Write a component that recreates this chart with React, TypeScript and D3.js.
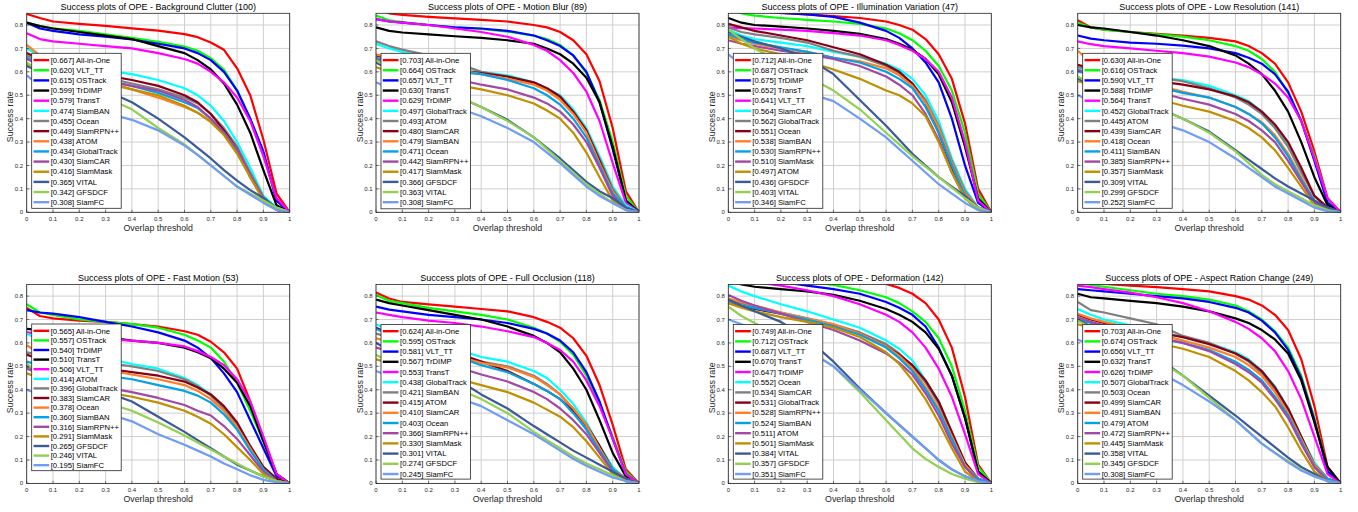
import React from "react";
import * as d3 from "d3";

// ---------- shared data ----------
const thresholds = [0, 0.05, 0.1, 0.2, 0.3, 0.4, 0.5, 0.6, 0.65, 0.7, 0.75, 0.8, 0.85, 0.9, 0.95, 1];
const xTickValues = [0, 0.1, 0.2, 0.3, 0.4, 0.5, 0.6, 0.7, 0.8, 0.9, 1];
const xTickLabels = ["0", "0.1", "0.2", "0.3", "0.4", "0.5", "0.6", "0.7", "0.8", "0.9", "1"];
const yTickValues = [0, 0.1, 0.2, 0.3, 0.4, 0.5, 0.6, 0.7, 0.8];
const yTickLabels = ["0", "0.1", "0.2", "0.3", "0.4", "0.5", "0.6", "0.7", "0.8"];
const rankColors = [
  "#ff0000", "#00ff00", "#0000ff", "#000000", "#ff00ff", "#00ffff", "#808080",
  "#880015", "#ff7f27", "#00a2e8", "#a349a4", "#bf9000", "#3b5a9a", "#92d050", "#6f9cf5",
];

// ---------- Background Clutter ----------
const bcTitle = "Success plots of OPE - Background Clutter (100)";
const bcNames = ["All-in-One", "VLT_TT", "OSTrack", "TrDIMP", "TransT", "SiamBAN", "Ocean", "SiamRPN++", "ATOM", "GlobalTrack", "SiamCAR", "SiamMask", "VITAL", "GFSDCF", "SiamFC"];
const bcScores = ["0.667", "0.620", "0.615", "0.599", "0.579", "0.474", "0.455", "0.449", "0.438", "0.434", "0.430", "0.416", "0.365", "0.342", "0.308"];
const bcCurves = [
  [0.847, 0.83, 0.815, 0.805, 0.796, 0.786, 0.776, 0.761, 0.748, 0.725, 0.694, 0.615, 0.5, 0.31, 0.08, 0],
  [0.81, 0.795, 0.786, 0.775, 0.76, 0.745, 0.728, 0.708, 0.69, 0.658, 0.61, 0.52, 0.4, 0.25, 0.05, 0],
  [0.81, 0.785, 0.775, 0.76, 0.75, 0.738, 0.72, 0.7, 0.68, 0.65, 0.6, 0.52, 0.4, 0.26, 0.05, 0],
  [0.81, 0.795, 0.785, 0.77, 0.755, 0.74, 0.71, 0.68, 0.65, 0.61, 0.55, 0.46, 0.34, 0.18, 0.03, 0],
  [0.765, 0.74, 0.73, 0.72, 0.71, 0.7, 0.68, 0.655, 0.635, 0.6, 0.555, 0.49, 0.39, 0.24, 0.06, 0],
  [0.7, 0.67, 0.65, 0.625, 0.605, 0.59, 0.565, 0.53, 0.5, 0.455, 0.39, 0.3, 0.19, 0.07, 0.02, 0],
  [0.67, 0.645, 0.625, 0.6, 0.575, 0.55, 0.525, 0.49, 0.465, 0.42, 0.36, 0.28, 0.17, 0.065, 0.015, 0],
  [0.68, 0.655, 0.635, 0.61, 0.585, 0.565, 0.54, 0.5, 0.47, 0.42, 0.35, 0.27, 0.15, 0.06, 0.01, 0],
  [0.715, 0.67, 0.64, 0.6, 0.56, 0.525, 0.49, 0.45, 0.425, 0.39, 0.335, 0.26, 0.16, 0.06, 0.01, 0],
  [0.66, 0.635, 0.615, 0.59, 0.565, 0.54, 0.51, 0.47, 0.445, 0.4, 0.34, 0.265, 0.16, 0.06, 0.01, 0],
  [0.655, 0.63, 0.61, 0.585, 0.56, 0.54, 0.52, 0.48, 0.45, 0.4, 0.34, 0.27, 0.16, 0.06, 0.01, 0],
  [0.635, 0.61, 0.595, 0.57, 0.55, 0.525, 0.5, 0.455, 0.425, 0.385, 0.33, 0.25, 0.15, 0.05, 0.01, 0],
  [0.625, 0.6, 0.58, 0.55, 0.52, 0.47, 0.4, 0.32, 0.275, 0.23, 0.18, 0.135, 0.095, 0.06, 0.02, 0],
  [0.64, 0.6, 0.57, 0.53, 0.49, 0.44, 0.36, 0.29, 0.245, 0.2, 0.155, 0.11, 0.08, 0.05, 0.02, 0],
  [0.585, 0.54, 0.5, 0.46, 0.425, 0.395, 0.35, 0.285, 0.245, 0.2, 0.155, 0.11, 0.075, 0.04, 0.01, 0],
];

// ---------- Motion Blur ----------
const mbTitle = "Success plots of OPE - Motion Blur (89)";
const mbNames = ["All-in-One", "OSTrack", "VLT_TT", "TransT", "TrDiMP", "GlobalTrack", "ATOM", "SiamCAR", "SiamBAN", "Ocean", "SiamRPN++", "SiamMask", "GFSDCF", "VITAL", "SiamFC"];
const mbScores = ["0.703", "0.664", "0.657", "0.630", "0.629", "0.497", "0.493", "0.480", "0.479", "0.471", "0.442", "0.417", "0.366", "0.363", "0.308"];
const mbCurves = [
  [0.87, 0.85, 0.843, 0.835, 0.828, 0.822, 0.815, 0.8, 0.79, 0.77, 0.735, 0.675, 0.56, 0.36, 0.09, 0],
  [0.84, 0.82, 0.812, 0.8, 0.79, 0.783, 0.772, 0.755, 0.74, 0.715, 0.67, 0.595, 0.48, 0.3, 0.07, 0],
  [0.825, 0.815, 0.81, 0.8, 0.79, 0.785, 0.775, 0.755, 0.735, 0.71, 0.67, 0.6, 0.47, 0.27, 0.05, 0],
  [0.79, 0.775, 0.768, 0.76, 0.752, 0.745, 0.735, 0.72, 0.7, 0.675, 0.635, 0.575, 0.47, 0.28, 0.05, 0],
  [0.825, 0.815, 0.81, 0.8, 0.785, 0.77, 0.75, 0.715, 0.69, 0.65, 0.595, 0.515, 0.39, 0.21, 0.04, 0],
  [0.72, 0.7, 0.685, 0.66, 0.635, 0.6, 0.585, 0.555, 0.53, 0.5, 0.44, 0.36, 0.24, 0.11, 0.03, 0],
  [0.73, 0.71, 0.695, 0.67, 0.64, 0.6, 0.58, 0.55, 0.525, 0.49, 0.43, 0.35, 0.23, 0.1, 0.02, 0],
  [0.67, 0.655, 0.645, 0.63, 0.61, 0.595, 0.58, 0.555, 0.53, 0.495, 0.43, 0.35, 0.22, 0.09, 0.02, 0],
  [0.675, 0.66, 0.648, 0.63, 0.61, 0.59, 0.57, 0.545, 0.52, 0.48, 0.42, 0.34, 0.21, 0.09, 0.02, 0],
  [0.66, 0.645, 0.635, 0.62, 0.6, 0.59, 0.565, 0.53, 0.5, 0.46, 0.4, 0.32, 0.2, 0.08, 0.02, 0],
  [0.655, 0.635, 0.62, 0.595, 0.57, 0.545, 0.525, 0.49, 0.465, 0.43, 0.375, 0.3, 0.19, 0.07, 0.01, 0],
  [0.62, 0.6, 0.59, 0.57, 0.545, 0.525, 0.5, 0.465, 0.435, 0.4, 0.34, 0.255, 0.15, 0.05, 0.01, 0],
  [0.64, 0.61, 0.585, 0.545, 0.5, 0.45, 0.395, 0.32, 0.275, 0.23, 0.18, 0.13, 0.09, 0.06, 0.02, 0],
  [0.65, 0.615, 0.59, 0.55, 0.5, 0.45, 0.39, 0.32, 0.27, 0.22, 0.17, 0.12, 0.08, 0.04, 0.01, 0],
  [0.555, 0.53, 0.51, 0.48, 0.45, 0.41, 0.36, 0.3, 0.255, 0.21, 0.16, 0.11, 0.07, 0.04, 0.01, 0],
];

// ---------- Illumination Variation ----------
const ivTitle = "Success plots of OPE - Illumination Variation (47)";
const ivNames = ["All-in-One", "OSTrack", "TrDiMP", "TransT", "VLT_TT", "SiamCAR", "GlobalTrack", "Ocean", "SiamBAN", "SiamRPN++", "SiamMask", "ATOM", "GFSDCF", "VITAL", "SiamFC"];
const ivScores = ["0.712", "0.687", "0.675", "0.652", "0.641", "0.564", "0.562", "0.551", "0.538", "0.530", "0.510", "0.497", "0.436", "0.403", "0.346"];
const ivCurves = [
  [0.88, 0.865, 0.857, 0.852, 0.845, 0.838, 0.83, 0.815, 0.8, 0.78, 0.74, 0.675, 0.57, 0.38, 0.1, 0],
  [0.87, 0.85, 0.84, 0.83, 0.822, 0.815, 0.805, 0.785, 0.765, 0.735, 0.69, 0.625, 0.52, 0.34, 0.08, 0],
  [0.88, 0.87, 0.865, 0.852, 0.845, 0.835, 0.81, 0.775, 0.745, 0.7, 0.64, 0.555, 0.4, 0.2, 0.04, 0],
  [0.83, 0.81, 0.8, 0.793, 0.785, 0.775, 0.762, 0.74, 0.72, 0.695, 0.655, 0.59, 0.47, 0.28, 0.06, 0],
  [0.79, 0.787, 0.785, 0.78, 0.775, 0.765, 0.755, 0.735, 0.715, 0.69, 0.655, 0.6, 0.49, 0.3, 0.05, 0],
  [0.78, 0.755, 0.74, 0.725, 0.71, 0.685, 0.665, 0.635, 0.61, 0.57, 0.5, 0.39, 0.23, 0.1, 0.02, 0],
  [0.79, 0.77, 0.76, 0.745, 0.725, 0.69, 0.665, 0.625, 0.595, 0.55, 0.48, 0.37, 0.22, 0.09, 0.02, 0],
  [0.805, 0.79, 0.775, 0.755, 0.735, 0.705, 0.675, 0.63, 0.6, 0.55, 0.47, 0.34, 0.19, 0.07, 0.02, 0],
  [0.75, 0.735, 0.72, 0.7, 0.685, 0.66, 0.645, 0.615, 0.585, 0.54, 0.47, 0.36, 0.21, 0.08, 0.02, 0],
  [0.76, 0.74, 0.725, 0.705, 0.685, 0.66, 0.64, 0.6, 0.57, 0.53, 0.45, 0.34, 0.2, 0.07, 0.02, 0],
  [0.735, 0.72, 0.71, 0.69, 0.675, 0.655, 0.625, 0.58, 0.545, 0.5, 0.42, 0.31, 0.17, 0.06, 0.01, 0],
  [0.75, 0.72, 0.7, 0.675, 0.645, 0.61, 0.57, 0.52, 0.5, 0.465, 0.41, 0.3, 0.17, 0.06, 0.01, 0],
  [0.77, 0.75, 0.73, 0.7, 0.66, 0.59, 0.48, 0.37, 0.31, 0.25, 0.2, 0.15, 0.11, 0.07, 0.02, 0],
  [0.78, 0.74, 0.7, 0.64, 0.58, 0.52, 0.44, 0.34, 0.29, 0.24, 0.195, 0.15, 0.105, 0.06, 0.02, 0],
  [0.675, 0.63, 0.6, 0.555, 0.51, 0.475, 0.4, 0.32, 0.27, 0.22, 0.17, 0.12, 0.08, 0.04, 0.01, 0],
];

// ---------- Low Resolution ----------
const lrTitle = "Success plots of OPE - Low Resolution (141)";
const lrNames = ["All-in-One", "OSTrack", "VLT_TT", "TrDiMP", "TransT", "GlobalTrack", "ATOM", "SiamCAR", "Ocean", "SiamBAN", "SiamRPN++", "SiamMask", "VITAL", "GFSDCF", "SiamFC"];
const lrScores = ["0.630", "0.616", "0.590", "0.588", "0.564", "0.452", "0.445", "0.439", "0.418", "0.411", "0.385", "0.357", "0.309", "0.299", "0.252"];
const lrCurves = [
  [0.82, 0.79, 0.78, 0.77, 0.762, 0.755, 0.745, 0.73, 0.71, 0.68, 0.635, 0.555, 0.43, 0.26, 0.06, 0],
  [0.81, 0.79, 0.78, 0.77, 0.76, 0.75, 0.735, 0.71, 0.69, 0.655, 0.6, 0.51, 0.39, 0.24, 0.05, 0],
  [0.755, 0.742, 0.735, 0.725, 0.72, 0.712, 0.7, 0.68, 0.66, 0.635, 0.59, 0.515, 0.39, 0.22, 0.04, 0],
  [0.8, 0.79, 0.785, 0.77, 0.755, 0.735, 0.71, 0.67, 0.635, 0.59, 0.52, 0.43, 0.3, 0.15, 0.03, 0],
  [0.73, 0.718, 0.71, 0.7, 0.69, 0.68, 0.665, 0.64, 0.62, 0.59, 0.55, 0.49, 0.39, 0.23, 0.06, 0],
  [0.6, 0.59, 0.585, 0.58, 0.575, 0.565, 0.54, 0.5, 0.475, 0.43, 0.37, 0.29, 0.18, 0.07, 0.02, 0],
  [0.62, 0.61, 0.6, 0.59, 0.575, 0.56, 0.53, 0.49, 0.46, 0.42, 0.36, 0.28, 0.17, 0.07, 0.02, 0],
  [0.63, 0.615, 0.6, 0.58, 0.56, 0.545, 0.525, 0.495, 0.47, 0.43, 0.375, 0.3, 0.19, 0.07, 0.02, 0],
  [0.69, 0.64, 0.61, 0.575, 0.545, 0.515, 0.49, 0.45, 0.42, 0.385, 0.33, 0.25, 0.15, 0.05, 0.01, 0],
  [0.61, 0.595, 0.58, 0.56, 0.535, 0.51, 0.49, 0.45, 0.42, 0.38, 0.32, 0.24, 0.14, 0.05, 0.01, 0],
  [0.605, 0.585, 0.57, 0.545, 0.515, 0.485, 0.46, 0.42, 0.39, 0.35, 0.3, 0.22, 0.13, 0.04, 0.01, 0],
  [0.56, 0.545, 0.535, 0.51, 0.485, 0.455, 0.43, 0.39, 0.36, 0.32, 0.265, 0.19, 0.11, 0.03, 0.01, 0],
  [0.57, 0.545, 0.525, 0.49, 0.45, 0.4, 0.345, 0.265, 0.225, 0.185, 0.145, 0.11, 0.08, 0.05, 0.02, 0],
  [0.58, 0.55, 0.53, 0.49, 0.45, 0.4, 0.34, 0.26, 0.21, 0.16, 0.12, 0.09, 0.06, 0.03, 0.01, 0],
  [0.5, 0.475, 0.455, 0.42, 0.385, 0.35, 0.3, 0.23, 0.19, 0.15, 0.11, 0.08, 0.05, 0.02, 0.005, 0],
];

// ---------- Fast Motion ----------
const fmTitle = "Success plots of OPE - Fast Motion (53)";
const fmNames = ["All-in-One", "OSTrack", "TrDIMP", "TransT", "VLT_TT", "ATOM", "GlobalTrack", "SiamCAR", "Ocean", "SiamBAN", "SiamRPN++", "SiamMask", "GFSDCF", "VITAL", "SiamFC"];
const fmScores = ["0.565", "0.557", "0.540", "0.510", "0.506", "0.414", "0.396", "0.383", "0.378", "0.360", "0.316", "0.291", "0.265", "0.246", "0.195"];
const fmCurves = [
  [0.75, 0.715, 0.705, 0.695, 0.69, 0.68, 0.67, 0.65, 0.635, 0.605, 0.56, 0.49, 0.35, 0.19, 0.04, 0],
  [0.765, 0.73, 0.72, 0.7, 0.69, 0.68, 0.665, 0.635, 0.61, 0.58, 0.52, 0.43, 0.31, 0.18, 0.04, 0],
  [0.74, 0.73, 0.725, 0.71, 0.69, 0.67, 0.645, 0.61, 0.58, 0.535, 0.47, 0.39, 0.27, 0.15, 0.03, 0],
  [0.66, 0.655, 0.65, 0.64, 0.625, 0.61, 0.6, 0.58, 0.56, 0.535, 0.49, 0.43, 0.33, 0.18, 0.04, 0],
  [0.645, 0.64, 0.635, 0.625, 0.615, 0.61, 0.6, 0.585, 0.565, 0.54, 0.505, 0.445, 0.35, 0.2, 0.04, 0],
  [0.64, 0.61, 0.59, 0.56, 0.535, 0.51, 0.49, 0.45, 0.42, 0.38, 0.32, 0.24, 0.15, 0.07, 0.02, 0],
  [0.56, 0.55, 0.54, 0.53, 0.515, 0.5, 0.48, 0.445, 0.415, 0.375, 0.32, 0.245, 0.15, 0.07, 0.02, 0],
  [0.55, 0.53, 0.52, 0.505, 0.49, 0.475, 0.46, 0.435, 0.41, 0.38, 0.33, 0.26, 0.16, 0.07, 0.02, 0],
  [0.59, 0.555, 0.535, 0.51, 0.485, 0.465, 0.445, 0.42, 0.395, 0.36, 0.31, 0.24, 0.15, 0.06, 0.01, 0],
  [0.52, 0.505, 0.495, 0.48, 0.46, 0.445, 0.42, 0.395, 0.375, 0.345, 0.295, 0.23, 0.14, 0.06, 0.01, 0],
  [0.49, 0.47, 0.455, 0.435, 0.41, 0.39, 0.365, 0.335, 0.31, 0.29, 0.245, 0.19, 0.12, 0.05, 0.01, 0],
  [0.47, 0.45, 0.435, 0.41, 0.39, 0.37, 0.345, 0.31, 0.285, 0.255, 0.21, 0.155, 0.1, 0.04, 0.01, 0],
  [0.5, 0.48, 0.46, 0.43, 0.39, 0.35, 0.285, 0.22, 0.185, 0.15, 0.115, 0.08, 0.055, 0.03, 0.01, 0],
  [0.51, 0.47, 0.44, 0.39, 0.345, 0.31, 0.26, 0.205, 0.175, 0.145, 0.115, 0.085, 0.055, 0.03, 0.01, 0],
  [0.4, 0.38, 0.36, 0.33, 0.3, 0.265, 0.21, 0.165, 0.14, 0.115, 0.085, 0.06, 0.035, 0.015, 0.005, 0],
];

// ---------- Full Occlusion ----------
const foTitle = "Success plots of OPE - Full Occlusion (118)";
const foNames = ["All-in-One", "OSTrack", "VLT_TT", "TrDIMP", "TransT", "GlobalTrack", "SiamBAN", "ATOM", "SiamCAR", "Ocean", "SiamRPN++", "SiamMask", "VITAL", "GFSDCF", "SiamFC"];
const foScores = ["0.624", "0.595", "0.581", "0.567", "0.553", "0.438", "0.421", "0.415", "0.410", "0.403", "0.366", "0.330", "0.301", "0.274", "0.245"];
const foCurves = [
  [0.815, 0.79, 0.775, 0.765, 0.755, 0.745, 0.735, 0.71, 0.69, 0.665, 0.62, 0.545, 0.42, 0.25, 0.06, 0],
  [0.805, 0.78, 0.77, 0.75, 0.735, 0.72, 0.7, 0.665, 0.64, 0.605, 0.55, 0.46, 0.34, 0.2, 0.05, 0],
  [0.755, 0.742, 0.735, 0.72, 0.71, 0.7, 0.685, 0.66, 0.64, 0.61, 0.56, 0.475, 0.35, 0.19, 0.04, 0],
  [0.785, 0.77, 0.76, 0.74, 0.72, 0.7, 0.67, 0.63, 0.6, 0.56, 0.49, 0.4, 0.27, 0.13, 0.03, 0],
  [0.73, 0.72, 0.71, 0.695, 0.685, 0.67, 0.65, 0.625, 0.6, 0.57, 0.52, 0.44, 0.33, 0.19, 0.04, 0],
  [0.68, 0.655, 0.635, 0.605, 0.575, 0.54, 0.52, 0.48, 0.45, 0.4, 0.34, 0.26, 0.16, 0.07, 0.02, 0],
  [0.64, 0.625, 0.61, 0.585, 0.555, 0.52, 0.5, 0.46, 0.425, 0.38, 0.32, 0.24, 0.15, 0.06, 0.02, 0],
  [0.665, 0.64, 0.62, 0.59, 0.56, 0.52, 0.48, 0.425, 0.395, 0.36, 0.31, 0.25, 0.16, 0.06, 0.02, 0],
  [0.62, 0.605, 0.595, 0.575, 0.545, 0.515, 0.495, 0.455, 0.42, 0.38, 0.32, 0.25, 0.15, 0.06, 0.02, 0],
  [0.66, 0.635, 0.615, 0.58, 0.545, 0.505, 0.475, 0.425, 0.395, 0.36, 0.3, 0.23, 0.14, 0.06, 0.01, 0],
  [0.58, 0.565, 0.55, 0.525, 0.5, 0.465, 0.435, 0.39, 0.36, 0.32, 0.27, 0.21, 0.13, 0.05, 0.01, 0],
  [0.53, 0.515, 0.5, 0.475, 0.45, 0.42, 0.39, 0.345, 0.315, 0.285, 0.24, 0.18, 0.11, 0.04, 0.01, 0],
  [0.6, 0.57, 0.545, 0.5, 0.45, 0.38, 0.32, 0.245, 0.21, 0.175, 0.14, 0.11, 0.08, 0.05, 0.02, 0],
  [0.55, 0.52, 0.495, 0.45, 0.41, 0.36, 0.3, 0.22, 0.185, 0.15, 0.115, 0.085, 0.06, 0.035, 0.01, 0],
  [0.48, 0.46, 0.44, 0.41, 0.37, 0.33, 0.27, 0.21, 0.175, 0.14, 0.105, 0.075, 0.05, 0.025, 0.01, 0],
];

// ---------- Deformation ----------
const dfTitle = "Success plots of OPE - Deformation (142)";
const dfNames = ["All-in-One", "OSTrack", "VLT_TT", "TransT", "TrDiMP", "Ocean", "SiamCAR", "GlobalTrack", "SiamRPN++", "SiamBAN", "ATOM", "SiamMask", "VITAL", "GFSDCF", "SiamFC"];
const dfScores = ["0.749", "0.712", "0.687", "0.670", "0.647", "0.552", "0.534", "0.531", "0.528", "0.524", "0.511", "0.501", "0.384", "0.357", "0.351"];
const dfCurves = [
  [0.93, 0.915, 0.91, 0.9, 0.89, 0.88, 0.87, 0.852, 0.835, 0.81, 0.77, 0.7, 0.58, 0.37, 0.08, 0],
  [0.9, 0.89, 0.88, 0.87, 0.86, 0.848, 0.825, 0.795, 0.77, 0.735, 0.69, 0.62, 0.5, 0.31, 0.07, 0],
  [0.88, 0.875, 0.87, 0.86, 0.845, 0.83, 0.81, 0.775, 0.75, 0.72, 0.67, 0.58, 0.46, 0.28, 0.05, 0],
  [0.87, 0.85, 0.84, 0.83, 0.82, 0.805, 0.78, 0.745, 0.72, 0.69, 0.645, 0.575, 0.46, 0.28, 0.05, 0],
  [0.87, 0.865, 0.86, 0.845, 0.825, 0.8, 0.765, 0.72, 0.69, 0.645, 0.58, 0.49, 0.37, 0.21, 0.04, 0],
  [0.845, 0.82, 0.8, 0.765, 0.735, 0.7, 0.665, 0.61, 0.575, 0.525, 0.44, 0.35, 0.21, 0.09, 0.02, 0],
  [0.79, 0.77, 0.755, 0.73, 0.705, 0.68, 0.645, 0.595, 0.555, 0.5, 0.43, 0.34, 0.21, 0.08, 0.02, 0],
  [0.77, 0.755, 0.745, 0.725, 0.7, 0.675, 0.64, 0.585, 0.55, 0.505, 0.44, 0.35, 0.22, 0.09, 0.02, 0],
  [0.79, 0.775, 0.76, 0.73, 0.705, 0.68, 0.64, 0.585, 0.545, 0.49, 0.41, 0.32, 0.2, 0.08, 0.02, 0],
  [0.78, 0.76, 0.75, 0.725, 0.7, 0.67, 0.635, 0.58, 0.535, 0.48, 0.4, 0.31, 0.19, 0.07, 0.02, 0],
  [0.805, 0.78, 0.76, 0.725, 0.69, 0.655, 0.61, 0.555, 0.515, 0.465, 0.385, 0.29, 0.17, 0.07, 0.01, 0],
  [0.77, 0.75, 0.735, 0.71, 0.69, 0.665, 0.625, 0.56, 0.51, 0.44, 0.36, 0.26, 0.15, 0.05, 0.01, 0],
  [0.785, 0.76, 0.735, 0.69, 0.62, 0.52, 0.405, 0.3, 0.25, 0.2, 0.15, 0.1, 0.06, 0.03, 0.01, 0],
  [0.755, 0.715, 0.685, 0.63, 0.57, 0.5, 0.39, 0.27, 0.21, 0.15, 0.105, 0.07, 0.04, 0.02, 0.005, 0],
  [0.7, 0.68, 0.66, 0.62, 0.57, 0.5, 0.4, 0.3, 0.25, 0.2, 0.15, 0.1, 0.06, 0.03, 0.01, 0],
];

// ---------- Aspect Ration Change ----------
const arTitle = "Success plots of OPE - Aspect Ration Change (249)";
const arNames = ["All-in-One", "OSTrack", "VLT_TT", "TransT", "TrDiMP", "GlobalTrack", "Ocean", "SiamCAR", "SiamBAN", "ATOM", "SiamRPN++", "SiamMask", "VITAL", "GFSDCF", "SiamFC"];
const arScores = ["0.703", "0.674", "0.656", "0.632", "0.626", "0.507", "0.503", "0.499", "0.491", "0.479", "0.472", "0.445", "0.358", "0.345", "0.308"];
const arCurves = [
  [0.87, 0.858, 0.852, 0.845, 0.838, 0.83, 0.82, 0.8, 0.785, 0.76, 0.72, 0.655, 0.53, 0.33, 0.07, 0],
  [0.86, 0.848, 0.84, 0.825, 0.81, 0.8, 0.785, 0.76, 0.735, 0.7, 0.65, 0.58, 0.46, 0.28, 0.06, 0],
  [0.83, 0.825, 0.82, 0.81, 0.8, 0.79, 0.775, 0.75, 0.73, 0.695, 0.645, 0.57, 0.45, 0.27, 0.05, 0],
  [0.81, 0.795, 0.79, 0.78, 0.77, 0.755, 0.735, 0.705, 0.685, 0.655, 0.615, 0.555, 0.44, 0.26, 0.07, 0],
  [0.845, 0.838, 0.83, 0.815, 0.795, 0.77, 0.735, 0.69, 0.66, 0.62, 0.565, 0.48, 0.36, 0.2, 0.04, 0],
  [0.745, 0.72, 0.7, 0.675, 0.65, 0.625, 0.6, 0.56, 0.53, 0.48, 0.415, 0.32, 0.2, 0.09, 0.02, 0],
  [0.775, 0.74, 0.73, 0.705, 0.68, 0.63, 0.6, 0.555, 0.52, 0.47, 0.4, 0.31, 0.19, 0.08, 0.02, 0],
  [0.72, 0.7, 0.685, 0.665, 0.645, 0.625, 0.595, 0.555, 0.525, 0.48, 0.41, 0.32, 0.2, 0.08, 0.02, 0],
  [0.725, 0.705, 0.69, 0.665, 0.64, 0.61, 0.58, 0.54, 0.505, 0.46, 0.39, 0.3, 0.19, 0.08, 0.02, 0],
  [0.7, 0.685, 0.67, 0.645, 0.62, 0.6, 0.57, 0.52, 0.485, 0.44, 0.37, 0.29, 0.18, 0.07, 0.02, 0],
  [0.71, 0.69, 0.675, 0.65, 0.625, 0.6, 0.565, 0.51, 0.475, 0.43, 0.36, 0.28, 0.17, 0.07, 0.01, 0],
  [0.68, 0.665, 0.65, 0.625, 0.6, 0.575, 0.54, 0.48, 0.44, 0.39, 0.33, 0.24, 0.14, 0.05, 0.01, 0],
  [0.7, 0.67, 0.645, 0.6, 0.54, 0.46, 0.375, 0.29, 0.245, 0.2, 0.155, 0.11, 0.07, 0.04, 0.01, 0],
  [0.695, 0.665, 0.64, 0.59, 0.53, 0.46, 0.365, 0.27, 0.22, 0.17, 0.13, 0.095, 0.06, 0.03, 0.01, 0],
  [0.615, 0.59, 0.57, 0.53, 0.48, 0.42, 0.35, 0.27, 0.22, 0.17, 0.13, 0.09, 0.055, 0.03, 0.01, 0],
];

// ---------- layout ----------
const FONT = "'Liberation Sans', Arial, Helvetica, sans-serif";
const AX_W = 263;
const AX_H = 199;
const colX = [26.7, 376, 728.3, 1077.7];
const rowY = [13.3, 284.4];

type PanelSpec = {
  title: string; names: string[]; scores: string[]; curves: number[][];
  col: number; row: number; legTop: number; legStep: number; legH: number;
};

const panels: PanelSpec[] = [
  { title: bcTitle, names: bcNames, scores: bcScores, curves: bcCurves, col: 0, row: 0, legTop: 40, legStep: 10.15, legH: 155 },
  { title: mbTitle, names: mbNames, scores: mbScores, curves: mbCurves, col: 1, row: 0, legTop: 40, legStep: 10.15, legH: 155.5 },
  { title: ivTitle, names: ivNames, scores: ivScores, curves: ivCurves, col: 2, row: 0, legTop: 40, legStep: 10.15, legH: 155 },
  { title: lrTitle, names: lrNames, scores: lrScores, curves: lrCurves, col: 3, row: 0, legTop: 40, legStep: 10.15, legH: 155 },
  { title: fmTitle, names: fmNames, scores: fmScores, curves: fmCurves, col: 0, row: 1, legTop: 39.6, legStep: 9.6, legH: 146.7 },
  { title: foTitle, names: foNames, scores: foScores, curves: foCurves, col: 1, row: 1, legTop: 40, legStep: 10.2, legH: 154.7 },
  { title: dfTitle, names: dfNames, scores: dfScores, curves: dfCurves, col: 2, row: 1, legTop: 40, legStep: 10.2, legH: 154.7 },
  { title: arTitle, names: arNames, scores: arScores, curves: arCurves, col: 3, row: 1, legTop: 40, legStep: 10.2, legH: 154.7 },
];

function Panel({ p, idx }: { p: PanelSpec; idx: number }) {
  const x0 = colX[p.col];
  const y0 = rowY[p.row];
  const x = d3.scaleLinear().domain([0, 1]).range([0, AX_W]);
  const y = d3.scaleLinear().domain([0, 0.85]).range([AX_H, 0]);
  const line = d3.line<number>().x((_, i) => x(thresholds[i])).y((v) => y(v));
  const clipId = `clip-${idx}`;
  const legX = 5;
  const legW = 89.5;
  const axisColor = "#262626";
  return (
    <g transform={`translate(${x0},${y0})`}>
      <defs>
        <clipPath id={clipId}>
          <rect x={0} y={0} width={AX_W} height={AX_H} />
        </clipPath>
      </defs>
      <rect x={0} y={0} width={AX_W} height={AX_H} fill="#ffffff" />
      {xTickValues.map((t) => (
        <line key={`gx${t}`} x1={x(t)} x2={x(t)} y1={0} y2={AX_H} stroke="#cfcfcf" strokeWidth={1} />
      ))}
      {yTickValues.map((t) => (
        <line key={`gy${t}`} x1={0} x2={AX_W} y1={y(t)} y2={y(t)} stroke="#cfcfcf" strokeWidth={1} />
      ))}
      <g clipPath={`url(#${clipId})`}>
        {p.curves.map((c, i) => (
          <path key={`c${i}`} d={line(c) || ""} fill="none" stroke={rankColors[i]} strokeWidth={2.2} strokeLinejoin="round" />
        ))}
      </g>
      <rect x={0} y={0} width={AX_W} height={AX_H} fill="none" stroke={axisColor} strokeWidth={0.8} />
      {xTickValues.map((t, i) => (
        <g key={`tx${t}`}>
          <line x1={x(t)} x2={x(t)} y1={AX_H} y2={AX_H - 2.5} stroke={axisColor} strokeWidth={0.6} />
          <text x={x(t)} y={AX_H + 8.8} fontSize={6} fontFamily={FONT} fill={axisColor} textAnchor="middle">{xTickLabels[i]}</text>
        </g>
      ))}
      {yTickValues.map((t, i) => (
        <g key={`ty${t}`}>
          <line x1={0} x2={2.5} y1={y(t)} y2={y(t)} stroke={axisColor} strokeWidth={0.6} />
          <text x={-3.5} y={y(t) + 2.1} fontSize={6} fontFamily={FONT} fill={axisColor} textAnchor="end">{yTickLabels[i]}</text>
        </g>
      ))}
      <text x={AX_W / 2} y={-3} fontSize={9} fontFamily={FONT} fill="#000" textAnchor="middle">{p.title}</text>
      <text x={AX_W / 2} y={AX_H + 19} fontSize={8.8} fontFamily={FONT} fill={axisColor} textAnchor="middle">Overlap threshold</text>
      <text transform={`translate(${-13.5},${AX_H / 2 + 4}) rotate(-90)`} fontSize={8.8} fontFamily={FONT} fill={axisColor} textAnchor="middle">Success rate</text>
      <g transform={`translate(${legX},${p.legTop})`}>
        <rect x={0} y={0} width={legW} height={p.legH} fill="#ffffff" stroke={axisColor} strokeWidth={0.8} />
        {p.names.map((n, i) => {
          const cy = 6.8 + i * p.legStep;
          return (
            <g key={`l${i}`}>
              <line x1={1.8} x2={17.5} y1={cy} y2={cy} stroke={rankColors[i]} strokeWidth={2.4} />
              <text x={19} y={cy + 2.7} fontSize={7.7} fontFamily={FONT} fill="#000">{`[${p.scores[i]}] ${n}`}</text>
            </g>
          );
        })}
      </g>
    </g>
  );
}

export default function App() {
  return (
    <svg width={1358} height={512} viewBox="0 0 1358 512" style={{ position: "absolute", left: 0, top: 0, background: "#fff" }}>
      <rect x={0} y={0} width={1358} height={512} fill="#ffffff" />
      {panels.map((p, i) => (
        <Panel key={i} p={p} idx={i} />
      ))}
    </svg>
  );
}
